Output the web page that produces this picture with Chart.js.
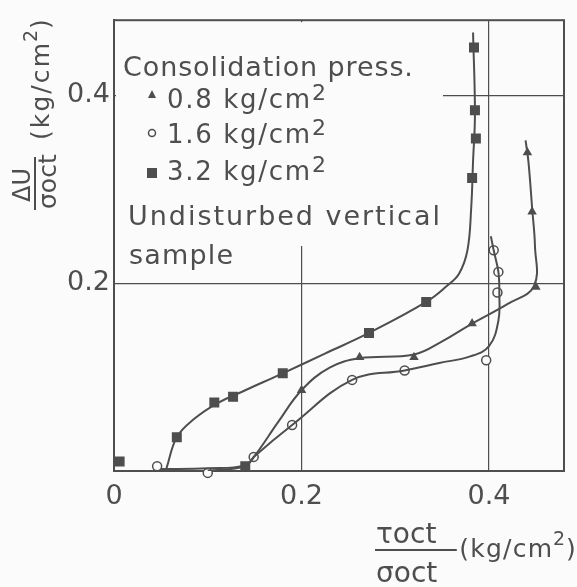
<!DOCTYPE html>
<html>
<head>
<meta charset="utf-8">
<script src="https://cdn.jsdelivr.net/npm/chart.js@4"></script>
<style>
  html, body { margin: 0; padding: 0; background: #fbfbfb; }
  #wrap { width: 577px; height: 587px; }
</style>
</head>
<body>
<div id="wrap"><canvas id="chart" width="577" height="587"></canvas></div>
<script>
// tick values on both axes
const xTicks = [0, 0.2, 0.4];
const yTicks = [0.2, 0.4];

// measured points, tau_oct/sigma_oct (x) and dU/sigma_oct (y)
const p08_x = [0.200, 0.262, 0.320, 0.382, 0.450, 0.446, 0.441];
const p08_y = [0.086, 0.121, 0.121, 0.157, 0.196, 0.276, 0.339];

const p16_x = [0.046, 0.100, 0.149, 0.190, 0.254, 0.310, 0.397, 0.409, 0.410, 0.405];
const p16_y = [0.005, -0.002, 0.015, 0.049, 0.097, 0.107, 0.118, 0.190, 0.212, 0.235];

const p32_x = [0.006, 0.067, 0.107, 0.127, 0.180, 0.272, 0.333, 0.140, 0.382, 0.386, 0.385, 0.384];
const p32_y = [0.010, 0.036, 0.073, 0.079, 0.104, 0.147, 0.180, 0.005, 0.312, 0.354, 0.384, 0.451];

// hand drawn curves
const c08_x = [0.050, 0.100, 0.140, 0.150, 0.175, 0.200, 0.230, 0.262, 0.320, 0.350, 0.382, 0.420, 0.448, 0.449, 0.446, 0.442, 0.439];
const c08_y = [0.002, 0.003, 0.006, 0.016, 0.052, 0.086, 0.110, 0.120, 0.124, 0.138, 0.157, 0.178, 0.197, 0.240, 0.280, 0.330, 0.352];

const c16_x = [0.100, 0.140, 0.149, 0.190, 0.254, 0.310, 0.347, 0.380, 0.400, 0.410, 0.411, 0.410, 0.405, 0.402];
const c16_y = [0.000, 0.005, 0.015, 0.049, 0.097, 0.107, 0.115, 0.122, 0.133, 0.160, 0.190, 0.212, 0.235, 0.250];

const c32_x = [0.056, 0.067, 0.085, 0.110, 0.140, 0.180, 0.225, 0.272, 0.333, 0.355, 0.368, 0.377, 0.381, 0.383, 0.385, 0.383];
const c32_y = [0.003, 0.036, 0.055, 0.072, 0.086, 0.104, 0.125, 0.147, 0.180, 0.197, 0.210, 0.235, 0.280, 0.330, 0.380, 0.467];

const legendTitle = 'Consolidation press.';
const legendItems = ['0.8 kg/cm', '1.6 kg/cm', '3.2 kg/cm'];
const noteLines = ['Undisturbed vertical', 'sample'];

const ink = '#4e4e4e';
const paper = '#fbfbfb';
const FONT = '"DejaVu Sans", sans-serif';

function pts(xs, ys) {
    return xs.map((x, i) => ({ x: x, y: ys[i] }));
}

function curve(xs, ys) {
    return {
        data: pts(xs, ys),
        showLine: true,
        borderColor: ink,
        borderWidth: 2,
        tension: 0.4,
        pointRadius: 0,
        fill: false
    };
}

function marks(xs, ys, style, radius, bg) {
    return {
        data: pts(xs, ys),
        showLine: false,
        pointStyle: style,
        pointRadius: radius,
        pointBackgroundColor: bg,
        pointBorderColor: ink,
        pointBorderWidth: 1.5,
        clip: false
    };
}

// draw text spread out to a given width (letter spacing), returns end x
function fitText(ctx, text, x, y, size, width) {
    ctx.font = size + 'px ' + FONT;
    ctx.letterSpacing = '0px';
    const w = ctx.measureText(text).width;
    let end = x + w;
    if (width && 'letterSpacing' in ctx) {
        const sp = (width - w) / (text.length - 1);
        ctx.letterSpacing = sp.toFixed(2) + 'px';
        ctx.fillText(text, x, y);
        ctx.letterSpacing = '0px';
        end = x + width;
    } else if (width) {
        ctx.save();
        ctx.translate(x, y);
        ctx.scale(width / w, 1);
        ctx.fillText(text, 0, 0);
        ctx.restore();
        end = x + width;
    } else {
        ctx.fillText(text, x, y);
    }
    return end;
}

// white panel behind the legend text, frame, legend and axis titles
const paperPlugin = {
    id: 'paper',
    beforeDatasetsDraw(chart) {
        const ctx = chart.ctx;
        const a = chart.chartArea;
        ctx.save();
        ctx.fillStyle = paper;
        ctx.fillRect(a.left + 2, a.top + 2, 443 - a.left - 2, 246 - a.top - 2);
        ctx.strokeStyle = ink;
        ctx.lineWidth = 2;
        ctx.strokeRect(a.left, a.top, a.right - a.left, a.bottom - a.top);
        ctx.restore();
    },
    afterDraw(chart) {
        const ctx = chart.ctx;
        ctx.save();
        ctx.fillStyle = ink;
        ctx.strokeStyle = ink;
        ctx.textBaseline = 'alphabetic';
        ctx.textAlign = 'left';

        // legend
        fitText(ctx, legendTitle, 123, 76, 27, 290);
        const rowY = [108, 143, 180];
        rowY.forEach((y, i) => {
            const end = fitText(ctx, legendItems[i], 167, y, 26, 143);
            fitText(ctx, '2', end + 2, y - 8, 22);
        });
        // legend symbols
        ctx.beginPath();
        ctx.moveTo(152, 90); ctx.lineTo(156, 98); ctx.lineTo(148, 98); ctx.closePath();
        ctx.fill();
        ctx.beginPath();
        ctx.lineWidth = 1.5;
        ctx.fillStyle = paper;
        ctx.arc(152, 133, 3.5, 0, Math.PI * 2);
        ctx.fill(); ctx.stroke();
        ctx.fillStyle = ink;
        ctx.fillRect(147, 168, 10, 10);

        fitText(ctx, noteLines[0], 128, 225, 27, 312);
        fitText(ctx, noteLines[1], 129, 264, 27, 104);

        // x axis title
        fitText(ctx, '\u03c4oct', 376, 543, 28);
        fitText(ctx, '\u03c3oct', 376, 582, 28);
        ctx.lineWidth = 2;
        ctx.beginPath(); ctx.moveTo(375, 550); ctx.lineTo(452, 550); ctx.stroke();
        let e = fitText(ctx, '-(kg/cm', 449, 557, 25, 103);
        e = fitText(ctx, '2', e + 1, 545, 19);
        fitText(ctx, ')', e + 1, 557, 25);

        // y axis title, rotated
        ctx.translate(35, 185);
        ctx.rotate(-Math.PI / 2);
        ctx.beginPath(); ctx.moveTo(-25, 0); ctx.lineTo(28, 0); ctx.stroke();
        fitText(ctx, '\u0394U', -17, -5, 24);
        fitText(ctx, '\u03c3oct', -24, 21, 25);
        e = fitText(ctx, '(kg/cm', 45, 14, 25, 97);
        e = fitText(ctx, '2', e + 1, 2, 19);
        fitText(ctx, ')', e + 1, 14, 25);
        ctx.restore();
    }
};

const ctx = document.getElementById('chart');
new Chart(ctx, {
    type: 'scatter',
    data: {
        datasets: [
            curve(c32_x, c32_y),
            curve(c08_x, c08_y),
            curve(c16_x, c16_y),
            marks(p08_x, p08_y, 'triangle', 4, ink),
            marks(p16_x, p16_y, 'circle', 4.5, paper),
            marks(p32_x, p32_y, 'rect', 6, ink)
        ]
    },
    options: {
        responsive: false,
        animation: false,
        layout: { padding: { left: 0, top: 20, right: 13, bottom: 0 } },
        plugins: {
            legend: { display: false },
            tooltip: { enabled: false }
        },
        scales: {
            x: {
                type: 'linear',
                min: 0,
                max: 0.48,
                afterFit(scale) { scale.height = 116; },
                afterBuildTicks(scale) { scale.ticks = xTicks.map(v => ({ value: v })); },
                ticks: {
                    padding: 10,
                    color: ink,
                    font: { size: 27, family: FONT },
                    callback: v => (v === 0 ? '0' : v.toFixed(1))
                },
                grid: { color: ink, lineWidth: 1.2, drawTicks: false },
                border: { color: ink, width: 2 }
            },
            y: {
                type: 'linear',
                min: 0,
                max: 0.48,
                afterFit(scale) { scale.width = 114; },
                afterBuildTicks(scale) { scale.ticks = yTicks.map(v => ({ value: v })); },
                ticks: {
                    padding: 4,
                    color: ink,
                    font: { size: 27, family: FONT },
                    callback: v => v.toFixed(1)
                },
                grid: { color: ink, lineWidth: 1.2, drawTicks: false },
                border: { color: ink, width: 2 }
            }
        }
    },
    plugins: [paperPlugin]
});
</script>
</body>
</html>
